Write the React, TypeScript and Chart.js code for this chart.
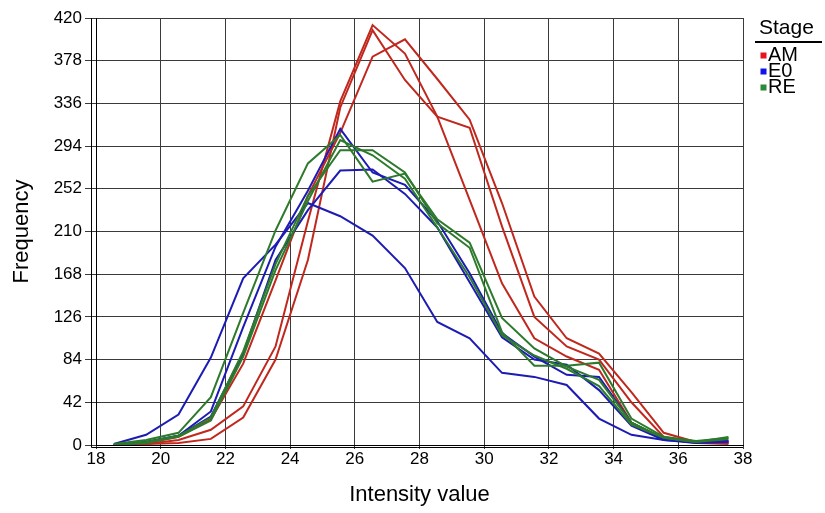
import React, { useEffect, useRef } from 'react';
import { Chart, registerables } from 'chart.js';

Chart.register(...registerables);

// Bin centres (Intensity value)
const bins = [18.55, 19.55, 20.55, 21.55, 22.55, 23.55, 24.55, 25.55, 26.55, 27.55, 28.55, 29.55, 30.55, 31.55, 32.55, 33.55, 34.55, 35.55, 36.55, 37.55];

// Stage AM
const amA = [0, 1, 5, 15, 38, 97, 220, 338, 413, 385, 323, 241, 159, 105, 87, 74, 22, 6, 2, 1];
const amB = [0, 1, 2, 6, 27, 84, 182, 332, 408, 359, 323, 312, 215, 126, 97, 84, 42, 8, 3, 2];
const amC = [0, 2, 8, 25, 80, 162, 245, 307, 382, 399, 360, 320, 238, 146, 105, 90, 52, 12, 3, 2];

// Stage E0
const e0A = [1, 10, 30, 86, 164, 197, 238, 225, 206, 174, 121, 105, 71, 67, 59, 26, 10, 5, 3, 4];
const e0B = [0, 3, 9, 33, 116, 195, 250, 311, 268, 256, 220, 169, 110, 87, 69, 67, 22, 6, 3, 4];
const e0C = [0, 3, 9, 28, 90, 182, 231, 270, 271, 247, 214, 160, 106, 84, 79, 54, 19, 5, 2, 3];

// Stage RE
const reA = [1, 5, 12, 47, 130, 211, 277, 305, 259, 267, 222, 199, 125, 95, 77, 64, 22, 7, 3, 8];
const reB = [0, 3, 9, 27, 92, 178, 245, 290, 290, 268, 218, 194, 111, 78, 78, 81, 26, 8, 4, 7];
const reC = [0, 2, 8, 24, 87, 172, 240, 300, 285, 262, 214, 165, 108, 88, 75, 58, 20, 7, 3, 6];

const stageLabels = ['AM', 'E0', 'RE'];
const lineColors = ['#c0281e', '#1c1cb4', '#2d7a2d'];
const legendColors = ['#e8141e', '#1212f0', '#2a8a3a'];
const stageSeries = [[amA, amB, amC], [e0A, e0B, e0C], [reA, reB, reC]];

const yTicksMax = 420;
const yStep = 42;
const xMin = 18;
const xMax = 38;
const xStep = 2;

const FONT = "'Liberation Sans', Arial, Helvetica, sans-serif";

const decorPlugin = {
  id: 'decor',
  afterDraw(chart: any) {
    const { ctx, chartArea: a } = chart;
    ctx.save();
    ctx.strokeStyle = '#000';
    ctx.lineWidth = 1;
    // offset axis lines (double-line look)
    ctx.beginPath();
    ctx.moveTo(a.left - 4.5, a.top);
    ctx.lineTo(a.left - 4.5, a.bottom + 2.5);
    ctx.lineTo(a.right, a.bottom + 2.5);
    ctx.stroke();
    // legend
    ctx.fillStyle = '#000';
    ctx.textBaseline = 'middle';
    ctx.textAlign = 'left';
    ctx.font = `21px ${FONT}`;
    ctx.fillText('Stage', 759, 28);
    ctx.fillRect(755, 41, 67, 2);
    ctx.font = `20px ${FONT}`;
    stageLabels.forEach((lab, i) => {
      const cy = 55.5 + i * 16;
      ctx.fillStyle = legendColors[i];
      ctx.fillRect(760.5, cy - 3, 6, 6);
      ctx.fillStyle = '#000';
      ctx.fillText(lab, 768, cy);
    });
    ctx.restore();
  },
};

export default function App() {
  const ref = useRef<HTMLCanvasElement | null>(null);
  useEffect(() => {
    if (!ref.current) return;
    const datasets: any[] = [];
    const order = [2, 1, 0];
    order.forEach((si) => {
      stageSeries[si].forEach((vals, k) => {
        datasets.push({
          label: `${stageLabels[si]} ${k + 1}`,
          data: vals.map((v, i) => ({ x: bins[i], y: v })),
          borderColor: lineColors[si],
          backgroundColor: lineColors[si],
          borderWidth: 2,
          pointRadius: 0,
          tension: 0,
          fill: false,
        });
      });
    });
    const chart = new Chart(ref.current, {
      type: 'line',
      data: { datasets },
      options: {
        animation: false,
        responsive: true,
        maintainAspectRatio: false,
        layout: { padding: { top: 18, right: 82, bottom: 0, left: 0 } },
        plugins: { legend: { display: false }, tooltip: { enabled: false } },
        scales: {
          x: {
            type: 'linear',
            min: xMin,
            max: xMax,
            afterFit: (s: any) => { s.height = 68; },
            ticks: { stepSize: xStep, color: '#000', font: { family: FONT, size: 17 }, padding: 0, maxRotation: 0 },
            grid: { color: '#3a3a3a', lineWidth: 1, tickLength: 4, drawTicks: true },
            border: { color: '#000', width: 1 },
            title: { display: true, text: 'Intensity value', color: '#000', font: { family: FONT, size: 22 }, padding: { top: 0, bottom: 5 } },
          },
          y: {
            min: 0,
            max: yTicksMax,
            afterFit: (s: any) => { s.width = 96; },
            ticks: { stepSize: yStep, color: '#000', font: { family: FONT, size: 17 }, padding: 3 },
            grid: { color: '#3a3a3a', lineWidth: 1, tickLength: 11, drawTicks: true },
            border: { color: '#000', width: 1 },
            title: { display: true, text: 'Frequency', color: '#000', font: { family: FONT, size: 22 }, padding: { top: 9, bottom: 0 } },
          },
        },
      },
      plugins: [decorPlugin],
    });
    return () => chart.destroy();
  }, []);
  return (
    <div style={{ position: 'absolute', left: 0, top: 0, width: 825, height: 513 }}>
      <canvas ref={ref} />
    </div>
  );
}
